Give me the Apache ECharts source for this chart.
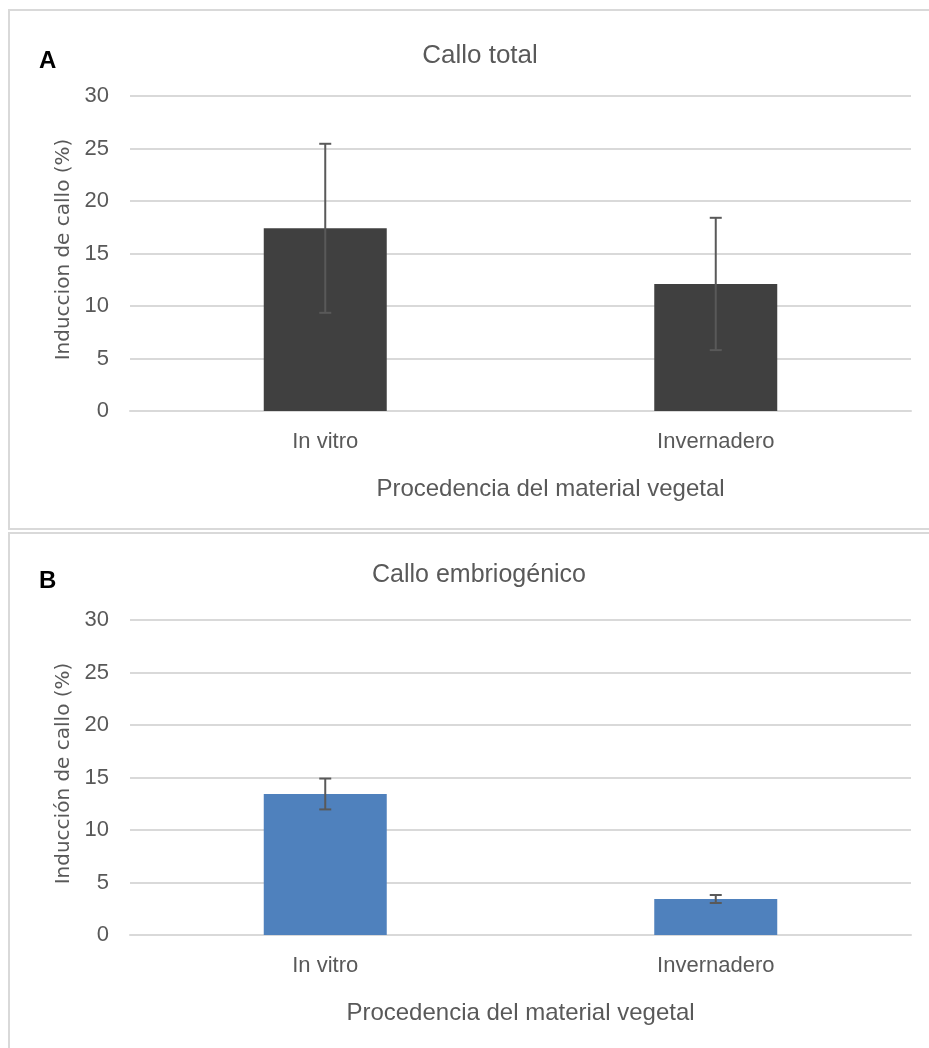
<!DOCTYPE html>
<html><head><meta charset="utf-8">
<script src="https://cdn.jsdelivr.net/npm/echarts@6/dist/echarts.min.js"></script>
<style>html,body{margin:0;padding:0;background:#fff}#c{width:929px;height:1048px}</style>
</head><body><div id="c"></div>
<script>
const categories = ['In vitro', 'Invernadero'];
const totalMeans = [17.4, 12.1];
const totalErr = [8.05, 6.3];
const embMeans = [13.43, 3.43];
const embErr = [1.47, 0.38];
const yTicks = [0, 5, 10, 15, 20, 25, 30];

const chart = echarts.init(document.getElementById('c'), null, {renderer: 'canvas'});
const sans = '"Liberation Sans", Arial, sans-serif';
const gray = '#595959';

function errSeries(means, errs, idx) {
  return {
    type: 'custom', xAxisIndex: idx, yAxisIndex: idx, z: 5,
    data: means.map((m, i) => [i, m - errs[i], m + errs[i]]),
    renderItem: function (params, api) {
      const lo = api.coord([api.value(0), api.value(1)]);
      const hi = api.coord([api.value(0), api.value(2)]);
      const w = 6;
      const st = {stroke: gray, lineWidth: 2};
      return {type: 'group', children: [
        {type: 'line', shape: {x1: lo[0], y1: lo[1], x2: hi[0], y2: hi[1]}, style: st},
        {type: 'line', shape: {x1: hi[0] - w, y1: hi[1], x2: hi[0] + w, y2: hi[1]}, style: st},
        {type: 'line', shape: {x1: lo[0] - w, y1: lo[1], x2: lo[0] + w, y2: lo[1]}, style: st}
      ]};
    }
  };
}

function xAx(idx, pad) {
  return {
    gridIndex: idx, type: 'category', data: categories,
    axisLine: {show: true, lineStyle: {color: '#D9D9D9', width: 2}},
    axisTick: {show: false},
    axisLabel: {color: gray, fontFamily: sans, fontSize: 22, margin: 20},
    name: 'Procedencia del material vegetal', nameLocation: 'middle', nameGap: 66,
    nameTextStyle: {color: gray, fontFamily: sans, fontSize: 24, padding: pad}
  };
}
function yAx(idx, name) {
  return {
    gridIndex: idx, type: 'value', min: yTicks[0], max: yTicks[yTicks.length - 1], interval: 5,
    axisLine: {show: false}, axisTick: {show: false},
    splitLine: {lineStyle: {color: '#D9D9D9', width: 2}},
    axisLabel: {color: gray, fontFamily: sans, fontSize: 22, margin: 21},
    name: name, nameLocation: 'middle', nameGap: 55,
    nameTextStyle: {color: gray, fontFamily: '"DejaVu Sans", sans-serif', fontSize: 20, padding: [0, 0, 0, 8]}
  };
}

chart.setOption({
  animation: false,
  backgroundColor: '#fff',
  title: [
    {text: 'Callo total', left: 475, top: 38, textAlign: 'center',
     textStyle: {color: gray, fontFamily: sans, fontSize: 26, fontWeight: 'normal'}},
    {text: 'Callo embriogénico', left: 474, top: 558, textAlign: 'center',
     textStyle: {color: gray, fontFamily: sans, fontSize: 25, fontWeight: 'normal'}}
  ],
  graphic: [
    {type: 'rect', shape: {x: 9, y: 10, width: 940, height: 519}, style: {fill: 'none', stroke: '#D9D9D9', lineWidth: 2}, silent: true},
    {type: 'rect', shape: {x: 9, y: 533, width: 940, height: 530}, style: {fill: 'none', stroke: '#D9D9D9', lineWidth: 2}, silent: true},
    {type: 'text', left: 39, top: 49, style: {text: 'A', fill: '#000', font: 'bold 24px "Liberation Sans", sans-serif'}},
    {type: 'text', left: 39, top: 569, style: {text: 'B', fill: '#000', font: 'bold 24px "Liberation Sans", sans-serif'}}
  ],
  grid: [
    {left: 130, right: 18, top: 96, height: 315},
    {left: 130, right: 18, top: 620, height: 315}
  ],
  xAxis: [xAx(0, [0, 0, 0, 60]), xAx(1, [0, 0, 0, 0])],
  yAxis: [yAx(0, 'Induccion de callo (%)'), yAx(1, 'Inducción de callo (%)')],
  series: [
    {type: 'bar', xAxisIndex: 0, yAxisIndex: 0, data: totalMeans, barWidth: 123,
     itemStyle: {color: '#404040'}},
    errSeries(totalMeans, totalErr, 0),
    {type: 'bar', xAxisIndex: 1, yAxisIndex: 1, data: embMeans, barWidth: 123,
     itemStyle: {color: '#4F81BD'}},
    errSeries(embMeans, embErr, 1)
  ]
});
</script></body></html>
